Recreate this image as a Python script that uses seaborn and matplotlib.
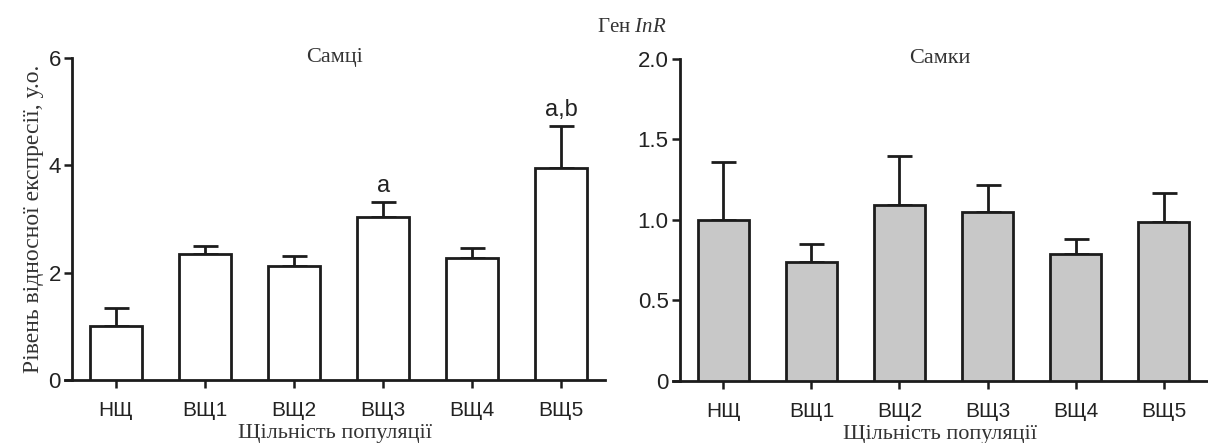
import matplotlib
matplotlib.use("Agg")
import matplotlib.pyplot as plt
import seaborn as sns
import pandas as pd
import numpy as np

# Population density groups
groups = ["НЩ", "ВЩ1", "ВЩ2", "ВЩ3", "ВЩ4", "ВЩ5"]

# Relative InR expression (mean and SEM)
male_mean = [1.00, 2.35, 2.12, 3.04, 2.27, 3.95]
male_sem = [0.34, 0.15, 0.19, 0.27, 0.19, 0.78]
female_mean = [1.00, 0.74, 1.09, 1.05, 0.79, 0.99]
female_sem = [0.36, 0.11, 0.31, 0.17, 0.09, 0.18]

# Significance marks for males
male_marks = {"ВЩ3": "a", "ВЩ5": "a,b"}

sns.set_theme(style="white")
plt.rcParams["font.family"] = ["Liberation Sans", "DejaVu Sans"]
plt.rcParams["mathtext.fontset"] = "custom"
plt.rcParams["mathtext.it"] = "Liberation Serif:italic"
plt.rcParams["mathtext.rm"] = "Liberation Serif"
SERIF = ["Liberation Serif", "DejaVu Serif"]
EDGE = "#1c1c1c"

fig = plt.figure(figsize=(12.08, 4.43), dpi=100)
ax_m = fig.add_axes([0.0538, 0.1422, 0.447, 0.7269])
ax_f = fig.add_axes([0.557, 0.140, 0.442, 0.7269])


def draw_panel(ax, mean, sem, fill, ymax, yticks, yticklabels, title):
    df = pd.DataFrame({"group": groups, "value": mean})
    sns.barplot(data=df, x="group", y="value", color=fill, saturation=1,
                edgecolor=EDGE, linewidth=2.0, width=0.58, errorbar=None,
                ax=ax, zorder=3)
    xs = np.arange(len(groups))
    ax.errorbar(xs, mean, yerr=[np.zeros(len(sem)), sem], fmt="none",
                ecolor=EDGE, elinewidth=2.0, capsize=9, capthick=2.0,
                zorder=2)
    ax.set_xlim(-0.573, 5.49)
    ax.set_ylim(0, ymax)
    ax.set_yticks(yticks)
    ax.set_yticklabels(yticklabels)
    for s in ["top", "right"]:
        ax.spines[s].set_visible(False)
    ax.spines["left"].set_position(("data", -0.494))
    for s in ["left", "bottom"]:
        ax.spines[s].set_color(EDGE)
        ax.spines[s].set_linewidth(2.0)
    ax.tick_params(axis="both", direction="out", length=6, width=1.8,
                   color=EDGE, labelcolor="#222222", bottom=True, left=True)
    ax.tick_params(axis="y", labelsize=16, pad=2)
    ax.tick_params(axis="x", labelsize=15, pad=9)
    ax.set_xlabel("Щільність популяції", family=SERIF, fontsize=16,
                  color="#333333", labelpad=3)
    ax.set_ylabel("")
    ax.text(0.5, 1.0, title, transform=ax.transAxes, ha="center",
            va="center", family=SERIF, fontsize=16, color="#333333")


draw_panel(ax_m, male_mean, male_sem, "white", 6, [0, 2, 4, 6],
           ["0", "2", "4", "6"], "Самці")
draw_panel(ax_f, female_mean, female_sem, "#c8c8c8", 2.0,
           [0, 0.5, 1.0, 1.5, 2.0], ["0", "0.5", "1.0", "1.5", "2.0"],
           "Самки")

for name, mark in male_marks.items():
    i = groups.index(name)
    top = male_mean[i] + male_sem[i]
    ax_m.annotate(mark, (i, top), xytext=(0, 4), textcoords="offset points",
                  ha="center", va="bottom", fontsize=17, color="#222222")

ax_m.set_ylabel("Рівень відносної експресії, у.о.", family=SERIF,
                fontsize=17, color="#333333", labelpad=3)

fig.text(0.523, 0.939, "Ген $\\it{InR}$", ha="center", va="center",
         family=SERIF, fontsize=15, color="#333333")

fig.savefig("out.png", dpi=100)
